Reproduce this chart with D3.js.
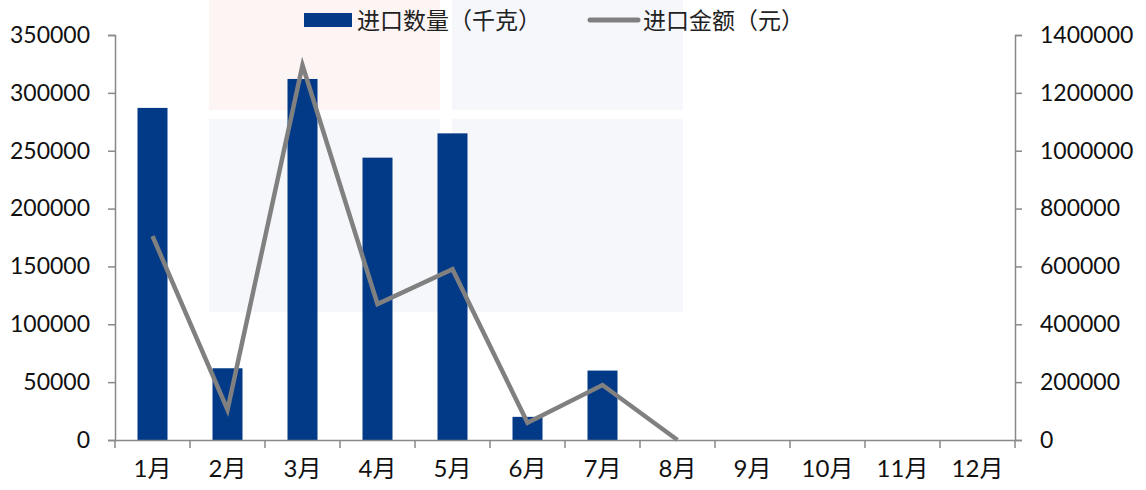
<!DOCTYPE html>
<html>
<head>
<meta charset="utf-8">
<script src="https://cdn.jsdelivr.net/npm/d3@7"></script>
<style>
  body { margin: 0; background: #fff; }
  text { font-family: Lato, "Noto Sans CJK SC", sans-serif; }
</style>
</head>
<body>
<div id="chart"></div>
<script>
var svgWidth = 1146;
var svgHeight = 490;

var months = ["1月", "2月", "3月", "4月", "5月", "6月", "7月", "8月", "9月", "10月", "11月", "12月"];
// import quantity (kg), left axis
var qty = [287000, 62000, 312000, 244000, 265000, 20000, 60000, 0];
// import value (yuan), right axis
var amount = [705000, 105000, 1295000, 470000, 590000, 60000, 190000, 0];
var leftTicks = [0, 50000, 100000, 150000, 200000, 250000, 300000, 350000];
var rightTicks = [0, 200000, 400000, 600000, 800000, 1000000, 1200000, 1400000];

var margin = { top: 35, right: 131, bottom: 50, left: 115 };
var width = svgWidth - margin.left - margin.right;
var height = svgHeight - margin.top - margin.bottom;

var svg = d3.select("#chart")
  .append("svg")
  .attr("width", svgWidth)
  .attr("height", svgHeight);

// faint watermark blocks
var wm = svg.append("g");
wm.append("rect").attr("x", 209).attr("y", 0).attr("width", 231).attr("height", 110).attr("fill", "#fdf4f4");
wm.append("rect").attr("x", 452).attr("y", 0).attr("width", 231).attr("height", 110).attr("fill", "#f6f7fa");
wm.append("rect").attr("x", 209).attr("y", 119).attr("width", 231).attr("height", 193).attr("fill", "#f6f7fa");
wm.append("rect").attr("x", 452).attr("y", 119).attr("width", 231).attr("height", 193).attr("fill", "#f6f7fa");

var chartGroup = svg.append("g")
  .attr("transform", `translate(${margin.left}, ${margin.top})`);

var xBand = d3.scaleBand().domain(months).range([0, width]);
var yLeft = d3.scaleLinear().domain([0, 350000]).range([height, 0]);
var yRight = d3.scaleLinear().domain([0, 1400000]).range([height, 0]);

// bars
chartGroup.selectAll(".bar")
  .data(qty)
  .enter()
  .append("rect")
  .attr("class", "bar")
  .attr("x", (d, i) => xBand(months[i]) + xBand.bandwidth() * 0.3)
  .attr("width", xBand.bandwidth() * 0.4)
  .attr("y", d => yLeft(d))
  .attr("height", d => height - yLeft(d))
  .attr("fill", "#033a87");

// line
var line = d3.line()
  .x((d, i) => xBand(months[i]) + xBand.bandwidth() / 2)
  .y(d => yRight(d));

chartGroup.append("path")
  .datum(amount)
  .attr("d", line)
  .attr("fill", "none")
  .attr("stroke", "#808080")
  .attr("stroke-width", 4.5)
  .attr("stroke-linejoin", "miter");

// axes
var leftAxis = d3.axisLeft(yLeft).tickValues(leftTicks).tickFormat(d3.format("d")).tickSizeOuter(0).tickSize(7).tickPadding(18);
var rightAxis = d3.axisRight(yRight).tickValues(rightTicks).tickFormat(d3.format("d")).tickSizeOuter(0).tickSize(7).tickPadding(18);
var bottomAxis = d3.axisBottom(xBand).tickSize(0).tickPadding(20);

var gL = chartGroup.append("g").call(leftAxis);
var gR = chartGroup.append("g").attr("transform", `translate(${width}, 0)`).call(rightAxis);
var gB = chartGroup.append("g").attr("transform", `translate(0, ${height})`).call(bottomAxis);

// x tick marks at band boundaries
chartGroup.selectAll(".xtick")
  .data(d3.range(months.length + 1))
  .enter()
  .append("line")
  .attr("x1", i => i * xBand.step())
  .attr("x2", i => i * xBand.step())
  .attr("y1", height)
  .attr("y2", height + 8)
  .attr("stroke", "#898989")
  .attr("stroke-width", 1.5);

[gL, gR, gB].forEach(function(g) {
  g.selectAll(".domain").attr("stroke", "#898989").attr("stroke-width", 1.5);
  g.selectAll(".tick line").attr("stroke", "#898989").attr("stroke-width", 1.5);
  g.selectAll("text").attr("fill", "#111").style("font-size", "23px");
});
gB.selectAll("text").style("font-size", "24px");

// legend
var legend = svg.append("g");
legend.append("rect").attr("x", 304).attr("y", 13).attr("width", 48).attr("height", 14).attr("fill", "#033a87");
legend.append("text").attr("x", 357).attr("y", 29).attr("fill", "#222").style("font-size", "23px").text("进口数量（千克）");
legend.append("line").attr("x1", 590).attr("x2", 638).attr("y1", 20).attr("y2", 20)
  .attr("stroke", "#808080").attr("stroke-width", 5).attr("stroke-linecap", "round");
legend.append("text").attr("x", 643).attr("y", 29).attr("fill", "#222").style("font-size", "23px").text("进口金额（元）");
</script>
</body>
</html>
